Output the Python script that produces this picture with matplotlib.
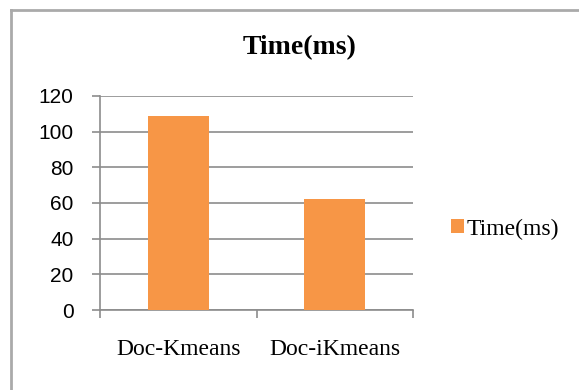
import matplotlib
matplotlib.use("Agg")
import matplotlib.pyplot as plt
from matplotlib.lines import Line2D

categories = ["Doc-Kmeans", "Doc-iKmeans"]
times = [109, 62]
series_name = "Time(ms)"
yticks = [0, 20, 40, 60, 80, 100, 120]

W, H = 579, 390
fig = plt.figure(figsize=(W / 100, H / 100), dpi=100)
ax = fig.add_axes([100 / W, 1 - 310 / H, 313 / W, 214 / H])

grid_c = "#8c8c8c"
bar_c = "#f79646"

x = range(len(categories))
ax.bar(x, times, width=0.39, color=bar_c, zorder=3, label=series_name)

ax.set_xlim(-0.5, len(categories) - 0.5)
ax.set_ylim(0, 120)
ax.set_yticks(yticks)
ax.yaxis.grid(True, color=grid_c, linewidth=1.2, zorder=0)
ax.set_xticks(list(x))
ax.set_xticklabels(categories, family="Liberation Serif", fontsize=17)
ax.set_xticks([-0.5, 0.5, 1.5], minor=True)
ax.tick_params(axis="x", which="major", length=0, pad=21)
ax.tick_params(axis="x", which="minor", length=6, width=1.2, color=grid_c)
ax.tick_params(axis="y", length=6, width=1.2, color=grid_c, pad=13)
for lab in ax.get_yticklabels():
    lab.set_family("Liberation Sans")
    lab.set_fontsize(15)

for s in ["top", "right"]:
    ax.spines[s].set_visible(False)
for s in ["left", "bottom"]:
    ax.spines[s].set_color(grid_c)
    ax.spines[s].set_linewidth(1.2)

fig.text(300 / W, 1 - 48 / H, series_name, ha="center", va="center",
         family="Liberation Serif", fontsize=20, fontweight="bold")

fig.legend(loc="center left", bbox_to_anchor=(434 / W, 1 - 229 / H),
           frameon=False, handlelength=0.55, handleheight=0.55, handletextpad=0.15,
           borderpad=0.2, prop={"family": "Liberation Serif", "size": 17})

# outer chart frame
fig.add_artist(Line2D([11 / W, 11 / W], [0, 1 - 9.5 / H], transform=fig.transFigure,
                      color="#aaaaaa", linewidth=2))
fig.add_artist(Line2D([11 / W, 1], [1 - 9.5 / H, 1 - 9.5 / H], transform=fig.transFigure,
                      color="#aaaaaa", linewidth=2))

fig.savefig("out.png", dpi=100)
